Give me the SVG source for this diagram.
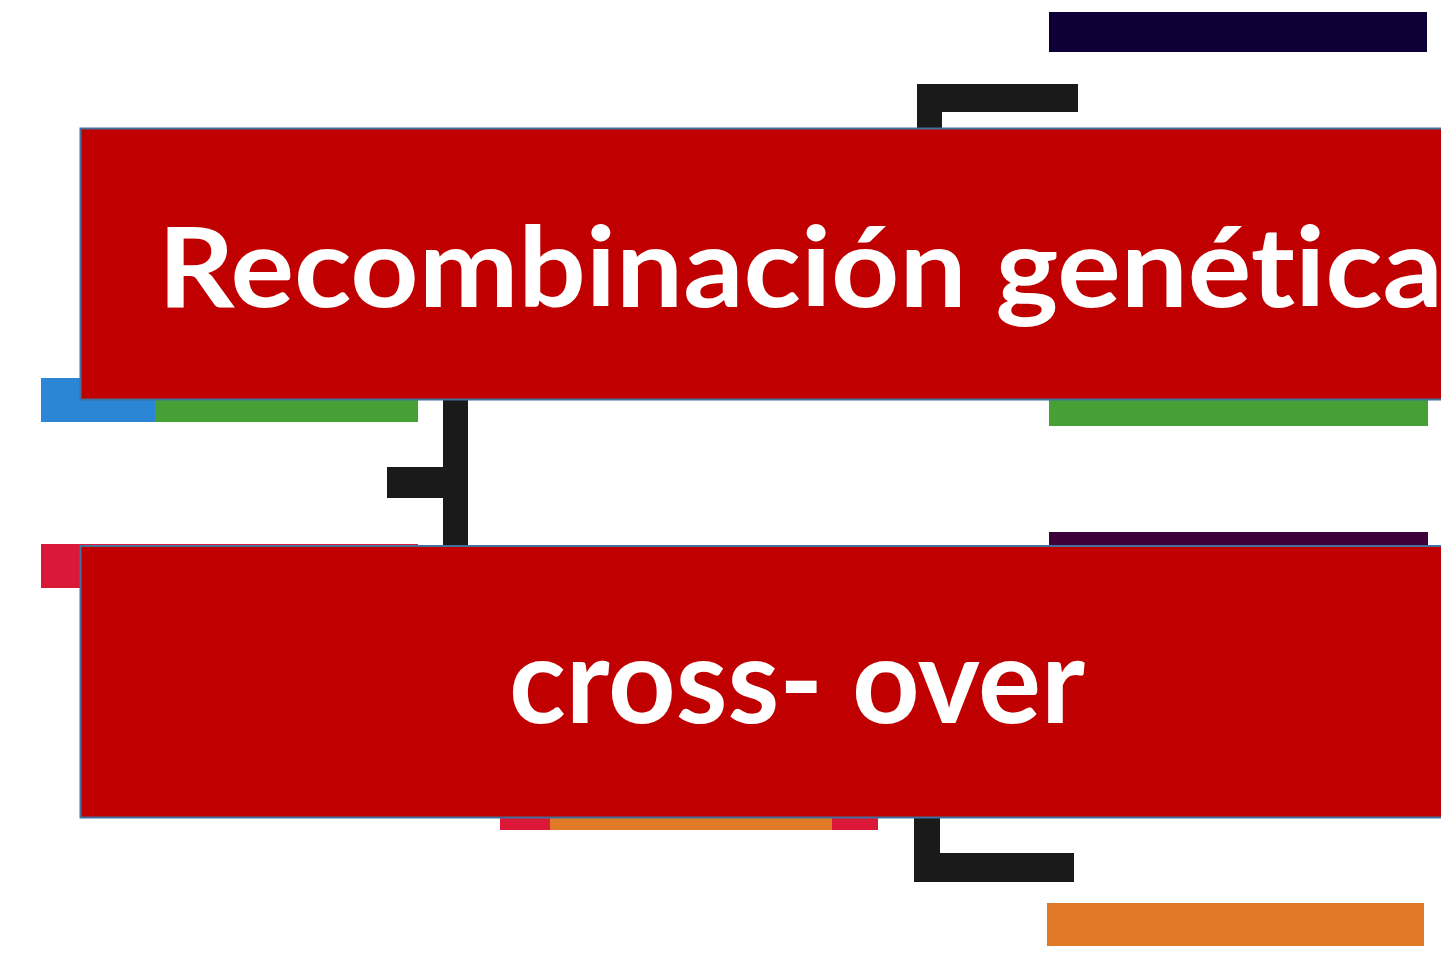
<svg xmlns="http://www.w3.org/2000/svg" width="1441" height="965" viewBox="0 0 1441 965">
  <style>
    .bracket { fill: #1a1a1a; }
    .box { fill: #c00000; stroke: #41719c; stroke-width: 2; }
    .title { font-family: Lato, "Open Sans", "Liberation Sans", sans-serif; font-weight: bold; fill: #ffffff; font-variant-ligatures: none; font-feature-settings: "liga" 0, "clig" 0; }
  </style>
  <rect x="0" y="0" width="1441" height="965" fill="#ffffff"/>

  <g id="bars">
    <rect x="1049" y="12" width="378" height="40" fill="#0e0036"/>
    <rect x="41" y="378" width="116" height="44" fill="#2b86d6"/>
    <rect x="155" y="378" width="263" height="44" fill="#46a035"/>
    <rect x="1049" y="398" width="379" height="28" fill="#46a035"/>
    <rect x="41" y="544" width="377" height="44" fill="#dc1838"/>
    <rect x="1049" y="532" width="379" height="20" fill="#3d0038"/>
    <rect x="500" y="810" width="378" height="20" fill="#e07a27"/>
    <rect x="500" y="810" width="50" height="20" fill="#dc1838"/>
    <rect x="832" y="810" width="46" height="20" fill="#dc1838"/>
    <rect x="1047" y="903" width="377" height="43" fill="#e07a27"/>
  </g>

  <g id="connectors">
    <path class="bracket" d="M917 84 H1078 V112 H942 V140 H917 Z"/>
    <rect class="bracket" x="443" y="390" width="25" height="165"/>
    <rect class="bracket" x="387" y="467" width="60" height="31"/>
    <path class="bracket" d="M914 810 H940 V853 H1074 V882 H914 Z"/>
  </g>

  <g id="node-recombinacion">
    <rect class="box" x="80.5" y="128.5" width="1370" height="271"/>
    <text class="title" x="158" y="307" font-size="111" textLength="1285" lengthAdjust="spacingAndGlyphs">Recombinación genética</text>
  </g>

  <g id="node-crossover">
    <rect class="box" x="80.5" y="546" width="1370" height="271.5"/>
    <text class="title" x="509" y="723" font-size="118" textLength="576" lengthAdjust="spacingAndGlyphs">cross- over</text>
  </g>
</svg>
